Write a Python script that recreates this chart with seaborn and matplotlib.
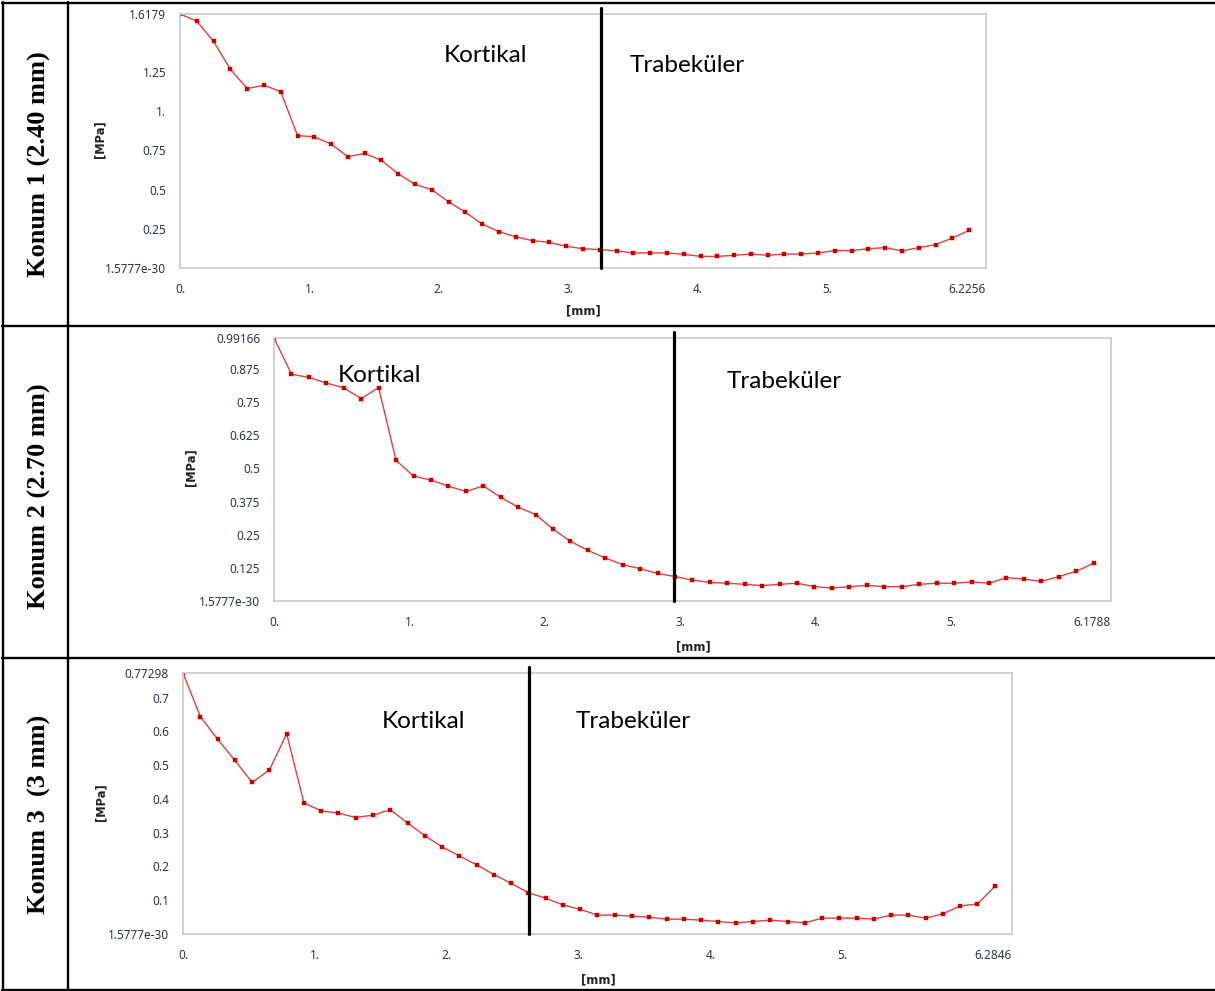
import matplotlib
matplotlib.use("Agg")
import matplotlib.pyplot as plt
from matplotlib.lines import Line2D
import seaborn as sns
import pandas as pd

# ---------------- data ----------------
row_labels = ["Konum 1 (2.40 mm)", "Konum 2 (2.70 mm)", "Konum 3  (3 mm)"]
region_labels = ["Kortikal", "Trabeküler"]

konum1_x = [0.000, 0.130, 0.259, 0.389, 0.519, 0.649, 0.778, 0.908, 1.038, 1.167,
            1.297, 1.427, 1.556, 1.686, 1.816, 1.946, 2.075, 2.205, 2.335, 2.464,
            2.594, 2.724, 2.853, 2.983, 3.113, 3.243, 3.372, 3.502, 3.632, 3.762,
            3.891, 4.021, 4.151, 4.280, 4.410, 4.540, 4.669, 4.799, 4.929, 5.059,
            5.188, 5.318, 5.448, 5.577, 5.707, 5.837, 5.966, 6.096]
konum1_y = [1.618, 1.572, 1.443, 1.266, 1.143, 1.164, 1.123, 0.843, 0.836, 0.789,
            0.709, 0.730, 0.685, 0.600, 0.532, 0.498, 0.421, 0.355, 0.279, 0.232,
            0.198, 0.174, 0.164, 0.138, 0.123, 0.117, 0.109, 0.096, 0.096, 0.096,
            0.087, 0.074, 0.074, 0.081, 0.089, 0.081, 0.089, 0.089, 0.096, 0.111,
            0.111, 0.123, 0.130, 0.109, 0.130, 0.149, 0.191, 0.240]

konum2_x = [0.000, 0.129, 0.257, 0.386, 0.515, 0.644, 0.772, 0.901, 1.030, 1.158,
            1.287, 1.416, 1.545, 1.673, 1.802, 1.931, 2.060, 2.188, 2.317, 2.446,
            2.574, 2.703, 2.832, 2.961, 3.089, 3.218, 3.347, 3.476, 3.604, 3.733,
            3.862, 3.990, 4.119, 4.248, 4.377, 4.505, 4.634, 4.763, 4.892, 5.020,
            5.149, 5.278, 5.406, 5.535, 5.664, 5.793, 5.921, 6.050]
konum2_y = [0.992, 0.855, 0.843, 0.822, 0.804, 0.763, 0.805, 0.530, 0.471, 0.456,
            0.433, 0.413, 0.434, 0.391, 0.354, 0.326, 0.271, 0.225, 0.191, 0.162,
            0.137, 0.122, 0.104, 0.092, 0.079, 0.070, 0.067, 0.063, 0.058, 0.063,
            0.067, 0.054, 0.049, 0.054, 0.059, 0.054, 0.054, 0.063, 0.067, 0.067,
            0.072, 0.067, 0.088, 0.083, 0.074, 0.092, 0.112, 0.142]

konum3_x = [0.000, 0.131, 0.262, 0.393, 0.524, 0.655, 0.786, 0.917, 1.047, 1.178,
            1.309, 1.440, 1.571, 1.702, 1.833, 1.964, 2.095, 2.226, 2.357, 2.488,
            2.619, 2.750, 2.880, 3.011, 3.142, 3.273, 3.404, 3.535, 3.666, 3.797,
            3.928, 4.059, 4.190, 4.321, 4.452, 4.583, 4.714, 4.845, 4.976, 5.107,
            5.237, 5.368, 5.499, 5.630, 5.761, 5.892, 6.023, 6.154]
konum3_y = [0.773, 0.644, 0.577, 0.514, 0.449, 0.486, 0.593, 0.388, 0.365, 0.358,
            0.345, 0.352, 0.368, 0.329, 0.291, 0.258, 0.231, 0.205, 0.176, 0.150,
            0.122, 0.106, 0.086, 0.073, 0.056, 0.056, 0.053, 0.050, 0.044, 0.044,
            0.041, 0.037, 0.033, 0.037, 0.041, 0.037, 0.033, 0.047, 0.047, 0.047,
            0.044, 0.056, 0.056, 0.047, 0.060, 0.083, 0.089, 0.141]

x_max = [6.2256, 6.1788, 6.2846]
y_max = [1.6179, 0.99166, 0.77298]
boundary_mm = [3.25, 2.955, 2.62]

xticks = [[0, 1, 2, 3, 4, 5, 6.2256],
          [0, 1, 2, 3, 4, 5, 6.1788],
          [0, 1, 2, 3, 4, 5, 6.2846]]
xtick_labels = [["0.", "1.", "2.", "3.", "4.", "5.", "6.2256"],
                ["0.", "1.", "2.", "3.", "4.", "5.", "6.1788"],
                ["0.", "1.", "2.", "3.", "4.", "5.", "6.2846"]]
yticks = [[0, 0.25, 0.5, 0.75, 1.0, 1.25, 1.6179],
          [0, 0.125, 0.25, 0.375, 0.5, 0.625, 0.75, 0.875, 0.99166],
          [0, 0.1, 0.2, 0.3, 0.4, 0.5, 0.6, 0.7, 0.77298]]
ytick_labels = [["1.5777e-30", "0.25", "0.5", "0.75", "1.", "1.25", "1.6179"],
                ["1.5777e-30", "0.125", "0.25", "0.375", "0.5", "0.625", "0.75", "0.875", "0.99166"],
                ["1.5777e-30", "0.1", "0.2", "0.3", "0.4", "0.5", "0.6", "0.7", "0.77298"]]
x_label = "[mm]"
y_label = "[MPa]"

# ---------------- layout (pixels) ----------------
W, H = 1215, 991
axes_px = [(180, 14, 986, 268), (274, 338, 1111, 601), (183, 673, 1012, 934)]
row_label_pos = [(39, 164), (39, 496), (39, 814)]
ylabel_pos = [(100, 139), (191, 467), (101, 802)]
xlabel_pos = [(583, 311), (693, 647), (598, 980)]
kort_pos = [(486, 56), (379, 375), (424, 722)]
trab_pos = [(687, 65), (784, 381), (633, 722)]

sns.set_style("white")
plt.rcParams["font.family"] = ["Noto Sans", "DejaVu Sans"]

fig = plt.figure(figsize=(W / 100, H / 100), dpi=100)


def fx(x):
    return x / W


def fy(y):
    return 1 - y / H


series = [(konum1_x, konum1_y), (konum2_x, konum2_y), (konum3_x, konum3_y)]
tick_color = "#2b3447"
frame_color = "#c8c8c8"

for i, (xs, ys) in enumerate(series):
    l, t, r, b = axes_px[i]
    ax = fig.add_axes([fx(l), fy(b), (r - l) / W, (b - t) / H])
    df = pd.DataFrame({"mm": xs, "MPa": ys})
    sns.lineplot(data=df, x="mm", y="MPa", ax=ax, color="#e04040", linewidth=1.0,
                 marker="s", markersize=2.6, markerfacecolor="#c80000",
                 markeredgecolor="#c80000", markeredgewidth=0.3)
    ax.set_xlim(0, x_max[i])
    ax.set_ylim(0, y_max[i])
    ax.set_xticks(xticks[i])
    ax.set_xticklabels(xtick_labels[i])
    ax.set_yticks(yticks[i])
    ax.set_yticklabels(ytick_labels[i])
    ax.get_xticklabels()[-1].set_horizontalalignment("right")
    ax.tick_params(axis="both", direction="out", length=7.5, width=1.0,
                   color=frame_color, labelsize=8.5, labelcolor=tick_color, pad=2.5)
    ax.tick_params(axis="x", pad=3.5)
    ax.set_xlabel("")
    ax.set_ylabel("")
    for s in ax.spines.values():
        s.set_visible(True)
        s.set_color(frame_color)
        s.set_linewidth(1.2)
    ax.grid(False)
    ax.axvline(boundary_mm[i], ymin=0, ymax=1.024, color="black", lw=2.3,
               clip_on=False, zorder=5)

    fig.text(fx(ylabel_pos[i][0]), fy(ylabel_pos[i][1]), y_label, rotation=90,
             ha="center", va="center", fontsize=8.3, fontweight="bold",
             family="DejaVu Sans", color="#222222")
    fig.text(fx(xlabel_pos[i][0]), fy(xlabel_pos[i][1]), x_label,
             ha="center", va="center", fontsize=8.3, fontweight="bold",
             family="DejaVu Sans", color="#222222")
    fig.text(fx(kort_pos[i][0]), fy(kort_pos[i][1]), region_labels[0],
             ha="center", va="center", fontsize=17.5, family="Lato", color="black")
    fig.text(fx(trab_pos[i][0]), fy(trab_pos[i][1]), region_labels[1],
             ha="center", va="center", fontsize=17.5, family="Lato", color="black")
    fig.text(fx(row_label_pos[i][0]), fy(row_label_pos[i][1]), row_labels[i],
             rotation=90, ha="center", va="center", fontsize=19,
             family="Liberation Serif", fontweight="bold", color="black")

# ---------------- table lines ----------------
def hline(y, x0, x1):
    fig.add_artist(Line2D([fx(x0), fx(x1)], [fy(y), fy(y)], color="black", lw=1.7,
                          transform=fig.transFigure))


def vline(x, y0, y1):
    fig.add_artist(Line2D([fx(x), fx(x)], [fy(y0), fy(y1)], color="black", lw=1.7,
                          transform=fig.transFigure))


for y in (3, 326, 658, 989.5):
    hline(y, 2, W)
vline(3, 2, 990)
vline(68, 2, 990)

fig.savefig("out.png", dpi=100)
